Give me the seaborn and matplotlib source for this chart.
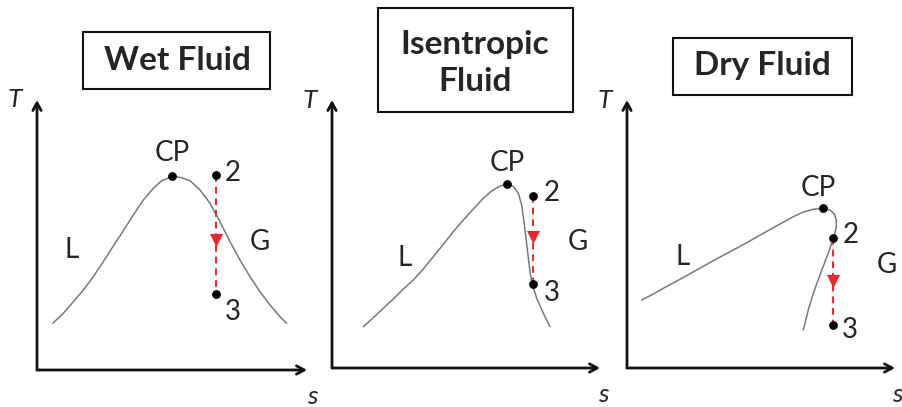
import matplotlib
matplotlib.use("Agg")
import matplotlib.pyplot as plt
from matplotlib.patches import Rectangle
import seaborn as sns

sns.set_style("white")
plt.rcParams["font.family"] = ["Lato", "DejaVu Sans"]

W, H = 903, 407

# Saturation domes (entropy s, temperature T, arbitrary units)
wet_s = [15.7, 26.3, 36.3, 46.3, 56.3, 66.3, 76.3, 86.3, 96.3, 106.3, 116.3, 124.7, 134.7,
         143.0, 153.0, 163.0, 173.0, 183.0, 193.0, 203.0, 213.0, 223.0, 233.0, 243.0, 249.7]
wet_T = [46.7, 56.7, 68.3, 80.0, 93.3, 108.3, 124.0, 139.3, 155.0, 170.0, 181.7, 189.3, 193.3,
         192.7, 189.3, 180.0, 166.7, 148.3, 128.3, 110.0, 93.3, 78.3, 65.0, 53.3, 46.7]

isen_s = [31.3, 41.3, 51.3, 61.3, 71.3, 81.3, 91.3, 101.3, 111.3, 121.3, 131.3, 141.3, 151.3,
          159.7, 168.0, 174.7, 181.3, 186.3, 189.7, 192.0, 194.0, 196.0, 198.0, 200.0, 204.7,
          211.3, 218.0]
isen_T = [41.3, 50.3, 59.7, 69.0, 79.0, 88.0, 99.0, 111.3, 123.7, 136.3, 148.0, 159.0, 169.7,
          177.0, 182.0, 183.7, 181.7, 174.7, 163.0, 146.3, 129.7, 113.0, 96.3, 84.7, 69.7,
          54.7, 41.3]

dry_s = [14.7, 26.3, 36.3, 53.0, 69.7, 86.3, 103.0, 119.7, 136.3, 153.0, 166.3, 176.3, 186.3,
         196.3, 203.0, 207.3, 209.3, 209.3, 207.0, 203.0, 198.0, 192.3, 186.3, 181.3, 178.0, 176.3]
dry_T = [68.0, 74.0, 79.7, 88.7, 98.0, 107.3, 116.3, 125.3, 134.7, 144.0, 151.3, 156.0, 158.7,
         159.7, 158.0, 154.0, 148.0, 140.7, 131.3, 119.7, 106.3, 91.3, 74.7, 58.0, 44.7, 38.0]

# Critical point and expansion states 2 -> 3
cp_s = [135.0, 174.7, 196.3]
cp_T = [194.0, 183.7, 159.7]
st2_s = [179.0, 200.7, 206.3]
st2_T = [195.0, 172.3, 129.7]
st3_s = [179.0, 200.7, 206.3]
st3_T = [76.0, 83.7, 43.0]
arrow_T = [130.0, 131.0, 87.0]

titles = ["Wet Fluid", "Isentropic\nFluid", "Dry Fluid"]
curves = [(wet_s, wet_T), (isen_s, isen_T), (dry_s, dry_T)]

# Panel geometry in pixels: origin x, origin y, arrow tip x, arrow tip y
panels = [(37, 370, 307, 100), (332, 368, 600, 100), (627, 368, 895, 100)]
# Label positions in data units: CP, 2, 3, L, G
label_pos = [
    [(135, 217), (196, 197), (196, 58), (35, 120), (223, 128)],
    [(175, 205), (220, 175), (220, 75), (73, 110), (246, 126)],
    [(191, 180), (224, 133), (223, 38), (56, 111), (260, 103)],
]
s_label_x = [275, 271, 270]
title_boxes = [(83, 32, 270, 89), (378, 8, 573, 112), (673, 38, 852, 95)]
title_centers = [(177, 61), (475, 63), (762, 66)]

fig = plt.figure(figsize=(W / 100, H / 100), dpi=100)

red = "#e8282b"
for i in range(3):
    x0, y0, xt, yt = panels[i]
    ax = fig.add_axes([x0 / W, 1 - y0 / H, (xt - x0) / W, (y0 - yt) / H])
    ax.set_xlim(0, xt - x0)
    ax.set_ylim(0, y0 - yt)
    ax.axis("off")

    # coordinate axes with arrow heads
    ap = dict(arrowstyle="->,head_length=0.55,head_width=0.3", lw=2.0, color="#111111",
              shrinkA=0, shrinkB=0)
    ax.annotate("", xy=(xt - x0, 0), xytext=(0, 0), arrowprops=ap, annotation_clip=False)
    ax.annotate("", xy=(0, y0 - yt), xytext=(0, 0), arrowprops=ap, annotation_clip=False)
    ax.text(-22, y0 - yt, "T", fontsize=19, style="italic", ha="center", va="center", clip_on=False)
    ax.text(s_label_x[i], -27, "s", fontsize=19, style="italic", ha="center", va="center", clip_on=False)

    cs, cT = curves[i]
    sns.lineplot(x=cs, y=cT, ax=ax, sort=False, estimator=None, color="#7a7a7a", lw=1.1,
                 solid_joinstyle="round")

    # expansion 2 -> 3
    sns.lineplot(x=[st2_s[i], st3_s[i]], y=[st2_T[i], st3_T[i]], ax=ax, sort=False,
                 estimator=None, color=red, lw=1.4, linestyle=(0, (3.5, 2.5)))
    ax.scatter([st2_s[i]], [arrow_T[i]], marker="v", s=90, color=red, zorder=4, linewidths=0)

    sns.scatterplot(x=[cp_s[i], st2_s[i], st3_s[i]], y=[cp_T[i], st2_T[i], st3_T[i]], ax=ax,
                    color="black", s=40, zorder=5, linewidth=0, clip_on=False)

    for txt, (lx, ly) in zip(["CP", "2", "3", "L", "G"], label_pos[i]):
        ax.text(lx, ly, txt, fontsize=20, ha="center", va="center", clip_on=False)

    bx0, by0, bx1, by1 = title_boxes[i]
    fig.add_artist(Rectangle((bx0 / W, 1 - by1 / H), (bx1 - bx0) / W, (by1 - by0) / H,
                             transform=fig.transFigure, fill=False, lw=1.5, ec="#111111"))
    tx, ty = title_centers[i]
    fig.text(tx / W, 1 - ty / H, titles[i], fontsize=24, fontweight="bold", ha="center",
             va="center", linespacing=1.3)

fig.savefig("out.png", dpi=100)
